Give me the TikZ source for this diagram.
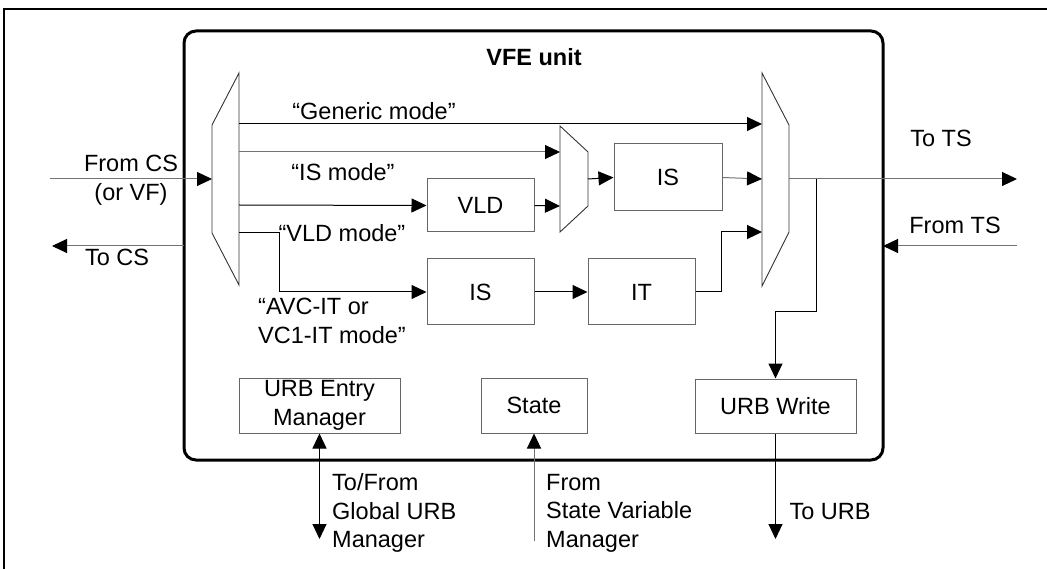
\documentclass[tikz,border=0pt]{standalone}
\usepackage{fontspec}
\setmainfont{Liberation Sans}
\usetikzlibrary{arrows.meta}
\begin{document}
\begin{tikzpicture}[x=1pt,y=-1pt,
  font=\fontsize{23.5}{28.5}\selectfont,
  blk/.style={draw=black!60, line width=1pt, inner sep=0pt, align=center},
  mux/.style={draw=black!80, line width=0.9pt, line join=miter},
  conn/.style={draw=black, line width=1pt, -{Triangle[length=15pt,width=14pt]}},
  gconn/.style={draw=black!55, line width=1pt, -{Triangle[length=15pt,width=14pt,fill=black,color=black]}},
  plain/.style={draw=black, line width=1pt},
  lbl/.style={inner sep=0pt, align=center},
  lbll/.style={inner sep=0pt, align=left}]
\useasboundingbox (0,0) rectangle (1047,569);
% outer frame (top and left only)
\draw[line width=2pt] (4,569) -- (4,9) -- (1047,9);
% VFE unit box
\draw[line width=3pt, rounded corners=12pt] (184,31) rectangle (883,460);
\node[lbl, font=\fontsize{23.5}{28.5}\selectfont\bfseries] (title) at (534,57) {VFE unit};
% muxes
\draw[mux] (239,73) -- (212,125) -- (212,233) -- (239,285) -- cycle;
\draw[mux] (560,126) -- (588,152) -- (588,206) -- (560,232) -- cycle;
\draw[mux] (762,73) -- (789,125) -- (789,232) -- (762,286) -- cycle;
% demux ports
\coordinate (dIn) at (212,179);
\coordinate (dOut) at (212,246);
\coordinate (d1) at (239,124);
\coordinate (d2) at (239,152);
\coordinate (d3) at (239,205);
\coordinate (d4) at (239,233);
% small mux ports
\coordinate (m1) at (560,152);
\coordinate (m2) at (560,206);
\coordinate (mo) at (588,179);
% right mux ports
\coordinate (r1) at (762,124);
\coordinate (r2) at (762,179);
\coordinate (r3) at (762,232);
\coordinate (ro) at (789,179);
% boxes
\node[blk, minimum width=107pt, minimum height=53pt] (vld) at (480.5,205.5) {VLD};
\node[blk, minimum width=108pt, minimum height=67pt] (is1) at (668,177.5) {IS};
\node[blk, minimum width=107pt, minimum height=66pt] (is2) at (480.5,292) {IS};
\node[blk, minimum width=107pt, minimum height=66pt] (it) at (641.5,292) {IT};
\node[blk, minimum width=161pt, minimum height=55pt] (urbe) at (319.5,405.5) {URB Entry\\Manager};
\node[blk, minimum width=106pt, minimum height=55pt] (state) at (534,405.5) {State};
\node[blk, minimum width=161pt, minimum height=54pt] (urbw) at (775.5,406) {URB Write};
% external points
\coordinate (csIn) at (50,179);
\coordinate (csOut) at (52,246);
\coordinate (vfeL) at (184,246);
\coordinate (tsOut) at (1017,179);
\coordinate (tsIn) at (1017,246);
\coordinate (vfeR) at (883,246);
\coordinate (urbOut) at (775.5,539);
\coordinate (gurb) at (319.5,539);
\coordinate (svm) at (534,541);
% connectors
\draw[gconn] (csIn) -- (dIn);
\draw[gconn] (vfeL) -- (csOut);
\draw[conn] (d1) -- (r1);
\draw[gconn] (d2) -- (m1);
\draw[conn] (d3) -- (vld.west);
\draw[conn] (d4) -- (279,233) -- (279,292) -- (is2.west);
\draw[conn] (vld.east) -- (m2);
\draw[conn] (mo) -- (is1.west);
\draw[gconn] (is1.east) -- (r2);
\draw[conn] (is2.east) -- (it.west);
\draw[conn] (it.east) -- (721,292) -- (721,232) -- (r3);
\draw[gconn] (ro) -- (tsOut);
\draw[conn] (816,179) -- (816,312) -- (775.5,312) -- (urbw.north);
\draw[gconn] (tsIn) -- (vfeR);
\draw[conn] (urbw.south) -- (urbOut);
\draw[draw=black, line width=1pt, {Triangle[length=15pt,width=14pt]}-{Triangle[length=15pt,width=14pt]}] (urbe.south) -- (gurb);
\draw[gconn] (svm) -- (state.south);
% labels
\node[lbl] (lgen) at (374,111) {“Generic mode”};
\node[lbl] (lis) at (343,172) {“IS mode”};
\node[lbl] (lvld) at (342,233) {“VLD mode”};
\node[lbll, anchor=north west] (lavc) at (258,298) {“AVC-IT or\\VC1-IT mode”};
\node[lbl] (lfcs) at (131,180) {From CS\\(or VF)};
\node[lbl] (ltcs) at (117,257) {To CS};
\node[lbl] (ltts) at (941,138) {To TS};
\node[lbl] (lfts) at (955,225) {From TS};
\node[lbl] (lturb) at (830,512) {To URB};
\node[lbll, anchor=west] (lgurb) at (332,513) {To/From\\Global URB\\Manager};
\node[lbll, anchor=west] (lsvm) at (546,513) {From\\State Variable\\Manager};
\end{tikzpicture}
\end{document}
